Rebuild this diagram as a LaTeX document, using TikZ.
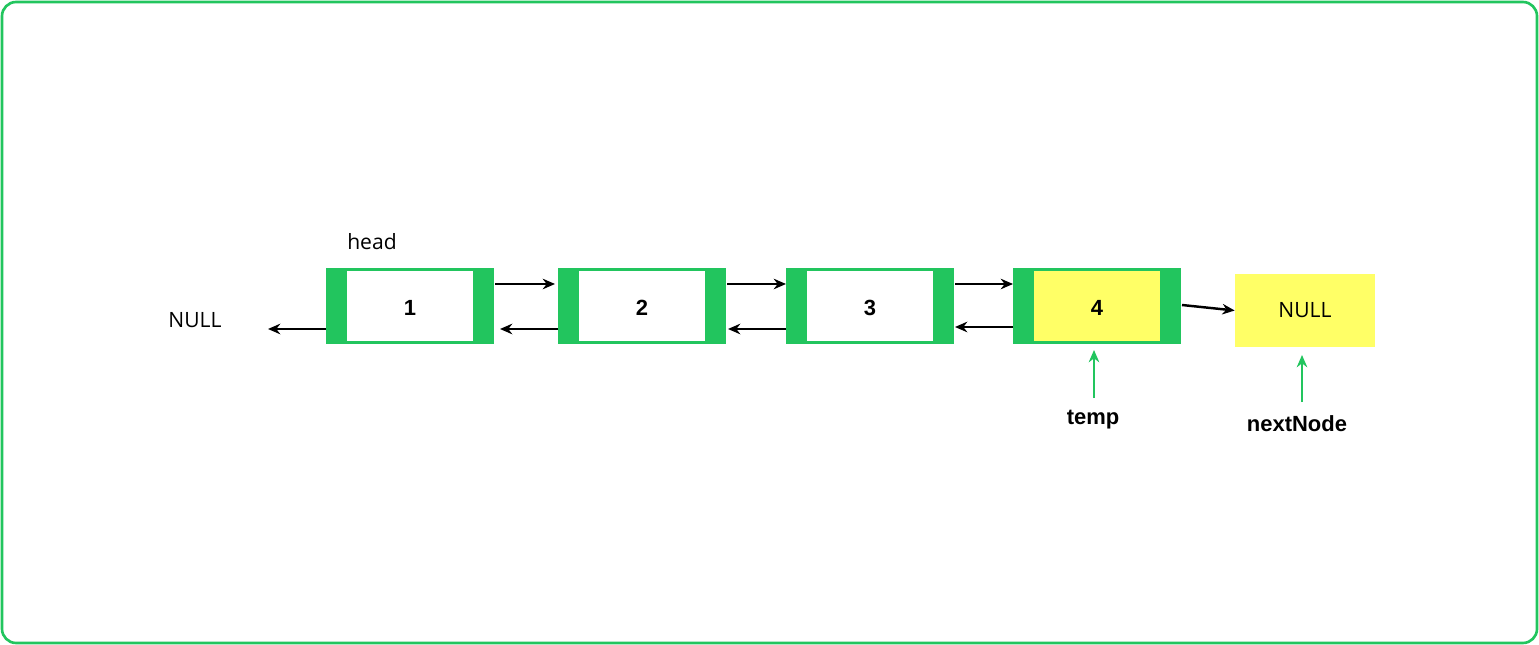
\documentclass[tikz,border=0pt]{standalone}
\usepackage{fontspec}
\setmainfont{Liberation Sans}
\newfontfamily\opens{Open Sans}
\usetikzlibrary{arrows.meta}
\definecolor{gr}{RGB}{34,197,94}
\definecolor{yl}{RGB}{255,255,102}
\begin{document}
\begin{tikzpicture}[x=0.02cm,y=-0.02cm,
  outerbox/.style={fill=gr,draw=none},
  arr/.style={-{Stealth[length=7pt,width=6pt]},line width=1.4pt},
  garr/.style={-{Stealth[length=7pt,width=6pt]},line width=1.6pt,draw=gr},
  num/.style={font=\fontsize{12.5}{14}\selectfont\bfseries},
  lbl/.style={font=\opens\fontsize{12}{14}\selectfont}]
\useasboundingbox (0,0) rectangle (1539,645);
\draw[gr,line width=1.5pt,rounded corners=8pt,fill=white] (2,2) rectangle (1537,643);
% list nodes
\foreach \n/\x/\c in {1/326/white,2/558/white,3/786/white,4/1013/yl}{
  \fill[gr] (\x,268) rectangle ++(168,76);
  \fill[\c] (\x+21,271) rectangle ++(126,70);
  \node[num] (n\n) at (\x+84,308) {\n};
  \coordinate (L\n) at (\x,0);
}
\node[fill=yl,minimum width=2.8cm,minimum height=1.46cm,inner sep=0pt,lbl] (nul) at (1305,310.5) {NULL};
\node[lbl] (nullL) at (195,320) {NULL};
\node[lbl] (head) at (372,242) {head};
\node[font=\fontsize{12.5}{14}\selectfont\bfseries] (temp) at (1093,420) {temp};
\node[font=\fontsize{12.5}{14}\selectfont\bfseries] (nx) at (1297,424) {nextNode};
% arrows
\draw[arr] (495,284) -- (555,284);
\draw[arr] (727,284) -- (786,284);
\draw[arr] (955,284) -- (1013,284);
\draw[arr] (558,329) -- (500,329);
\draw[arr] (786,329) -- (728,329);
\draw[arr] (1013,327) -- (955,327);
\draw[arr] (326,329) -- (268,329);
\draw[arr] (1182,305) -- (nul.west);
\draw[garr] (1094,398) -- (1094,350);
\draw[garr] (1302,402) -- (1302,355);
\end{tikzpicture}
\end{document}
